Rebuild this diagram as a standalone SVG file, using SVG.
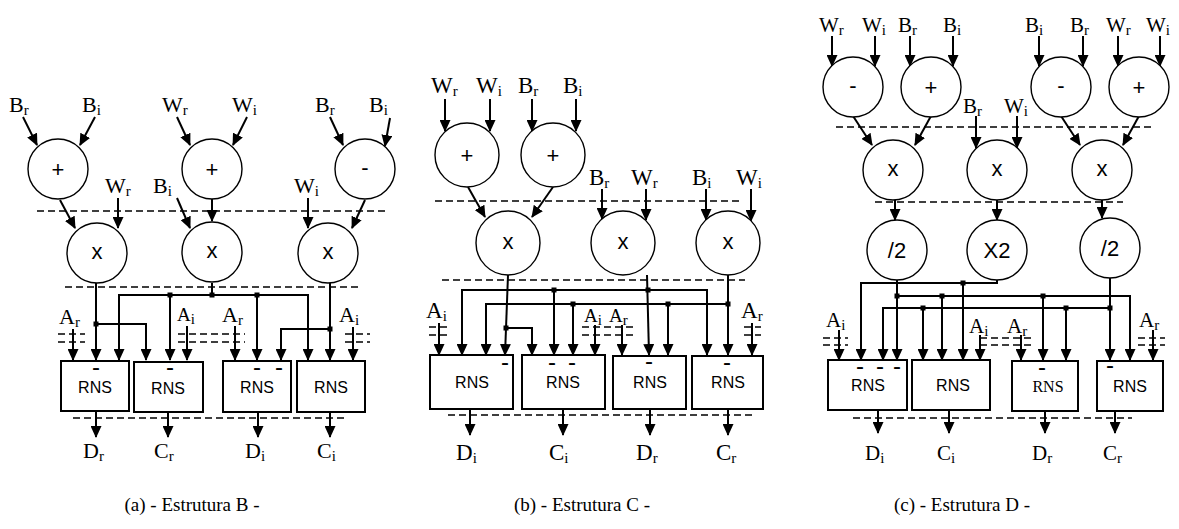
<svg xmlns="http://www.w3.org/2000/svg" width="1179" height="529" viewBox="0 0 1179 529">
<defs>
<marker id="ah" markerWidth="12" markerHeight="11" refX="11" refY="5.5" orient="auto" markerUnits="userSpaceOnUse"><path d="M0,0 L12,5.5 L0,11 z" fill="#000"/></marker>
<style>
.c{fill:#fff;stroke:#000;stroke-width:1.4}
.b{fill:#fff;stroke:#000;stroke-width:2}
.w{fill:none;stroke:#000;stroke-width:2;marker-end:url(#ah)}
.d{fill:none;stroke:#000;stroke-width:1.3;stroke-dasharray:7 4}
.j{fill:#000}
.l{font-family:"Liberation Serif",serif;font-size:22px;fill:#000}
.lb{font-family:"Liberation Serif",serif;font-size:23px;fill:#000}
.lc{font-family:"Liberation Serif",serif;font-size:21px;fill:#000}
.ls{font-family:"Liberation Serif",serif;font-size:19px;fill:#000}
.s{font-size:15px}
.op{font-family:"Liberation Sans",Arial,sans-serif;font-size:22px;text-anchor:middle;fill:#000}
.rns{font-family:"Liberation Sans",Arial,sans-serif;font-size:16px;text-anchor:middle;fill:#000}
.rnss{font-family:"Liberation Serif",serif;font-size:16px;text-anchor:middle;fill:#000}
.m{font-family:"Liberation Sans",Arial,sans-serif;font-size:24px;text-anchor:middle;fill:#000}
.cap{font-family:"Liberation Serif",serif;font-size:19px;text-anchor:middle;fill:#000}
</style>
</defs>
<rect width="1179" height="529" fill="#fff"/>

<g id="dashes">
<path class="d" d="M37,211H385M65,287H360M73,418H347"/>
<path class="d" d="M58,334H85M58,342H85M178,334H245M178,342H245M345,334H370M345,342H370"/>
<path class="d" d="M435,201H743M442,280H745M448,415H753"/>
<path class="d" d="M429,327H447M429,335H447M582,327H637M582,335H637M744,327H761M744,335H761"/>
<path class="d" d="M836,127H1155M875,202H1123M853,418H1132"/>
<path class="d" d="M823,338H848M823,345H848M980,338H1033M980,345H1033M1138,338H1165M1138,345H1165"/>
</g>

<g id="connectors">
<!-- (a) -->
<path class="w" d="M23,117L37,145"/>
<path class="w" d="M95,117L80,145"/>
<path class="w" d="M177,117L190,145"/>
<path class="w" d="M247,117L233,145"/>
<path class="w" d="M330,117L343,145"/>
<path class="w" d="M390,118L385,146"/>
<path class="w" d="M60,200L75,228"/>
<path class="w" d="M118,198V228"/>
<path class="w" d="M212,199V221"/>
<path class="w" d="M177,198L190,228"/>
<path class="w" d="M308,198V228"/>
<path class="w" d="M365,200L352,228"/>
<path class="w" d="M96,283V360"/>
<path class="w" d="M96,324H146V360"/>
<path class="w" d="M212,283V295H119V360"/>
<path class="w" d="M212,295H308V360"/>
<path class="w" d="M170,295V360"/>
<path class="w" d="M257,295V360"/>
<path class="w" d="M330,283V360"/>
<path class="w" d="M330,329H281V360"/>
<path class="w" d="M73,329V360"/>
<path class="w" d="M187,326V360"/>
<path class="w" d="M235,326V360"/>
<path class="w" d="M353,327V360"/>
<path class="w" d="M96,411V437"/>
<path class="w" d="M168,412V437"/>
<path class="w" d="M258,412V437"/>
<path class="w" d="M330,412V437"/>
<rect class="j" x="93.5" y="321.5" width="5" height="5"/>
<rect class="j" x="167.5" y="292.5" width="5" height="5"/>
<rect class="j" x="209.5" y="292.5" width="5" height="5"/>
<rect class="j" x="254.5" y="292.5" width="5" height="5"/>
<rect class="j" x="327.5" y="326.5" width="5" height="5"/>

<!-- (b) -->
<path class="w" d="M445,99V131"/>
<path class="w" d="M490,99V131"/>
<path class="w" d="M532,99V131"/>
<path class="w" d="M576,99V131"/>
<path class="w" d="M468,187L485,217"/>
<path class="w" d="M553,187L532,217"/>
<path class="w" d="M602,189V219"/>
<path class="w" d="M646,189V220"/>
<path class="w" d="M706,189V220"/>
<path class="w" d="M751,189V221"/>
<path class="w" d="M508,275L505,355"/>
<path class="w" d="M506,328H532V355"/>
<path class="w" d="M647,275L649,355"/>
<path class="w" d="M648,290H462V355"/>
<path class="w" d="M648,290H707V355"/>
<path class="w" d="M554,290V355"/>
<path class="w" d="M728,275V355"/>
<path class="w" d="M728,304H486V355"/>
<path class="w" d="M573,304V355"/>
<path class="w" d="M668,304V355"/>
<path class="w" d="M439,323V355"/>
<path class="w" d="M595,325V355"/>
<path class="w" d="M622,325V355"/>
<path class="w" d="M752,323V355"/>
<path class="w" d="M470,409V435"/>
<path class="w" d="M563,409V435"/>
<path class="w" d="M650,409V435"/>
<path class="w" d="M728,409V435"/>
<rect class="j" x="503.5" y="325.5" width="5" height="5"/>
<rect class="j" x="551.5" y="287.5" width="5" height="5"/>
<rect class="j" x="645.5" y="287.5" width="5" height="5"/>
<rect class="j" x="570.5" y="301.5" width="5" height="5"/>
<rect class="j" x="665.5" y="301.5" width="5" height="5"/>
<rect class="j" x="725.5" y="301.5" width="5" height="5"/>

<!-- (c) -->
<path class="w" d="M832,36V66"/>
<path class="w" d="M875,36V66"/>
<path class="w" d="M910,36V66"/>
<path class="w" d="M953,36V66"/>
<path class="w" d="M1039,36V66"/>
<path class="w" d="M1083,36V66"/>
<path class="w" d="M1118,36V66"/>
<path class="w" d="M1160,36V66"/>
<path class="w" d="M853,116L872,145"/>
<path class="w" d="M931,116L915,145"/>
<path class="w" d="M1061,116L1080,145"/>
<path class="w" d="M1139,116L1123,145"/>
<path class="w" d="M976,116V148"/>
<path class="w" d="M1017,116V148"/>
<path class="w" d="M895,200V220"/>
<path class="w" d="M997,200V220"/>
<path class="w" d="M1102,200V218"/>
<path class="w" d="M897,280V360"/>
<path class="w" d="M897,296H1130V360"/>
<path class="w" d="M942,296V360"/>
<path class="w" d="M1043,296V360"/>
<path class="w" d="M997,280V283H861V360"/>
<path class="w" d="M963,283V360"/>
<path class="w" d="M1110,278V360"/>
<path class="w" d="M1110,308H883V360"/>
<path class="w" d="M923,308V360"/>
<path class="w" d="M1066,308V360"/>
<path class="w" d="M839,330V360"/>
<path class="w" d="M980,335V360"/>
<path class="w" d="M1021,335V360"/>
<path class="w" d="M1153,330V360"/>
<path class="w" d="M878,410V433"/>
<path class="w" d="M949,410V433"/>
<path class="w" d="M1045,411V433"/>
<path class="w" d="M1115,411V433"/>
<rect class="j" x="894.5" y="293.5" width="5" height="5"/>
<rect class="j" x="939.5" y="293.5" width="5" height="5"/>
<rect class="j" x="1040.5" y="293.5" width="5" height="5"/>
<rect class="j" x="960.5" y="280.5" width="5" height="5"/>
<rect class="j" x="920.5" y="305.5" width="5" height="5"/>
<rect class="j" x="1063.5" y="305.5" width="5" height="5"/>
<rect class="j" x="1107.5" y="305.5" width="5" height="5"/>
</g>

<!-- ===== (a) nodes ===== -->
<g id="a-add1"><circle class="c" cx="58" cy="169" r="30"/><text class="op" x="58" y="177">+</text></g>
<g id="a-add2"><circle class="c" cx="212" cy="169" r="30"/><text class="op" x="212" y="177">+</text></g>
<g id="a-sub"><circle class="c" cx="365" cy="169" r="30"/><text class="op" x="365" y="175">-</text></g>
<g id="a-mul1"><circle class="c" cx="97" cy="253" r="30"/><text class="op" x="97" y="259">x</text></g>
<g id="a-mul2"><circle class="c" cx="212" cy="252" r="30"/><text class="op" x="212" y="258">x</text></g>
<g id="a-mul3"><circle class="c" cx="328" cy="253" r="30"/><text class="op" x="328" y="259">x</text></g>
<g id="a-rns1"><rect class="b" x="61" y="361" width="68" height="50"/><text class="m" x="96" y="375">-</text><text class="rns" x="95" y="393">RNS</text></g>
<g id="a-rns2"><rect class="b" x="134" y="362" width="69" height="50"/><text class="m" x="170" y="375">-</text><text class="rns" x="168" y="394">RNS</text></g>
<g id="a-rns3"><rect class="b" x="223" y="361" width="68" height="51"/><text class="m" x="257" y="375">-</text><text class="m" x="279" y="375">-</text><text class="rns" x="257" y="393">RNS</text></g>
<g id="a-rns4"><rect class="b" x="297" y="361" width="68" height="51"/><text class="rns" x="331" y="393">RNS</text></g>
<g id="a-labels">
<text class="l" x="9" y="112">B<tspan class="s" dy="3">r</tspan></text>
<text class="l" x="82" y="112">B<tspan class="s" dy="3">i</tspan></text>
<text class="l" x="162" y="112">W<tspan class="s" dy="3">r</tspan></text>
<text class="l" x="232" y="112">W<tspan class="s" dy="3">i</tspan></text>
<text class="l" x="315" y="112">B<tspan class="s" dy="3">r</tspan></text>
<text class="l" x="369" y="112">B<tspan class="s" dy="3">i</tspan></text>
<text class="l" x="105" y="193">W<tspan class="s" dy="3">r</tspan></text>
<text class="l" x="153" y="193">B<tspan class="s" dy="3">i</tspan></text>
<text class="l" x="294" y="193">W<tspan class="s" dy="3">i</tspan></text>
<text class="l" x="59" y="324">A<tspan class="s" dy="3">r</tspan></text>
<text class="ls" x="177" y="321">A<tspan class="s" dy="3">i</tspan></text>
<text class="l" x="222" y="322">A<tspan class="s" dy="3">r</tspan></text>
<text class="l" x="339" y="322">A<tspan class="s" dy="3">i</tspan></text>
<text class="l" x="83" y="458">D<tspan class="s" dy="3">r</tspan></text>
<text class="l" x="154" y="458">C<tspan class="s" dy="3">r</tspan></text>
<text class="l" x="245" y="458">D<tspan class="s" dy="3">i</tspan></text>
<text class="l" x="317" y="458">C<tspan class="s" dy="3">i</tspan></text>
<text class="cap" x="192" y="511">(a) - Estrutura B -</text>
</g>

<!-- ===== (b) nodes ===== -->
<g id="b-add1"><circle class="c" cx="467" cy="155" r="32"/><text class="op" x="467" y="163">+</text></g>
<g id="b-add2"><circle class="c" cx="553" cy="155" r="32"/><text class="op" x="553" y="163">+</text></g>
<g id="b-mul1"><circle class="c" cx="508" cy="243" r="32"/><text class="op" x="508" y="249">x</text></g>
<g id="b-mul2"><circle class="c" cx="623" cy="243" r="32"/><text class="op" x="623" y="249">x</text></g>
<g id="b-mul3"><circle class="c" cx="728" cy="243" r="32"/><text class="op" x="728" y="249">x</text></g>
<g id="b-rns1"><rect class="b" x="430" y="355" width="83" height="54"/><text class="m" x="505" y="370">-</text><text class="rns" x="472" y="388">RNS</text></g>
<g id="b-rns2"><rect class="b" x="522" y="355" width="83" height="54"/><text class="m" x="552" y="370">-</text><text class="m" x="572" y="370">-</text><text class="rns" x="563" y="388">RNS</text></g>
<g id="b-rns3"><rect class="b" x="613" y="356" width="73" height="53"/><text class="m" x="649" y="369">-</text><text class="rns" x="650" y="388">RNS</text></g>
<g id="b-rns4"><rect class="b" x="692" y="356" width="71" height="53"/><text class="m" x="727" y="370">-</text><text class="rns" x="728" y="388">RNS</text></g>
<g id="b-labels">
<text class="lb" x="431" y="93">W<tspan class="s" dy="3">r</tspan></text>
<text class="lb" x="476" y="93">W<tspan class="s" dy="3">i</tspan></text>
<text class="lb" x="518" y="93">B<tspan class="s" dy="3">r</tspan></text>
<text class="lb" x="563" y="93">B<tspan class="s" dy="3">i</tspan></text>
<text class="lb" x="589" y="185">B<tspan class="s" dy="3">r</tspan></text>
<text class="lb" x="631" y="185">W<tspan class="s" dy="3">r</tspan></text>
<text class="lb" x="692" y="185">B<tspan class="s" dy="3">i</tspan></text>
<text class="lb" x="736" y="185">W<tspan class="s" dy="3">i</tspan></text>
<text class="lb" x="426" y="318">A<tspan class="s" dy="3">i</tspan></text>
<text class="ls" x="584" y="322">A<tspan class="s" dy="3">i</tspan></text>
<text class="ls" x="609" y="322">A<tspan class="s" dy="3">r</tspan></text>
<text class="lb" x="741" y="318">A<tspan class="s" dy="3">r</tspan></text>
<text class="lb" x="456" y="460">D<tspan class="s" dy="3">i</tspan></text>
<text class="lb" x="549" y="460">C<tspan class="s" dy="3">i</tspan></text>
<text class="lb" x="636" y="460">D<tspan class="s" dy="3">r</tspan></text>
<text class="lb" x="716" y="460">C<tspan class="s" dy="3">r</tspan></text>
<text class="cap" x="582" y="511">(b) - Estrutura C -</text>
</g>

<!-- ===== (c) nodes ===== -->
<g id="c-sub1"><circle class="c" cx="853" cy="87" r="30"/><text class="op" x="853" y="93">-</text></g>
<g id="c-add1"><circle class="c" cx="931" cy="87" r="30"/><text class="op" x="931" y="95">+</text></g>
<g id="c-sub2"><circle class="c" cx="1061" cy="87" r="30"/><text class="op" x="1061" y="93">-</text></g>
<g id="c-add2"><circle class="c" cx="1139" cy="87" r="30"/><text class="op" x="1139" y="95">+</text></g>
<g id="c-mul1"><circle class="c" cx="893" cy="170" r="30"/><text class="op" x="893" y="176">x</text></g>
<g id="c-mul2"><circle class="c" cx="997" cy="170" r="30"/><text class="op" x="997" y="176">x</text></g>
<g id="c-mul3"><circle class="c" cx="1102" cy="170" r="30"/><text class="op" x="1102" y="176">x</text></g>
<g id="c-div1"><circle class="c" cx="897" cy="250" r="30"/><text class="op" x="897" y="258">/2</text></g>
<g id="c-x2"><circle class="c" cx="997" cy="250" r="30"/><text class="op" x="997" y="258">X2</text></g>
<g id="c-div2"><circle class="c" cx="1110" cy="248" r="30"/><text class="op" x="1110" y="256">/2</text></g>
<g id="c-rns1"><rect class="b" x="828" y="360" width="79" height="50"/><text class="m" x="860" y="374">-</text><text class="m" x="880" y="374">-</text><text class="m" x="897" y="374">-</text><text class="rns" x="868" y="391">RNS</text></g>
<g id="c-rns2"><rect class="b" x="912" y="360" width="78" height="50"/><text class="rns" x="953" y="391">RNS</text></g>
<g id="c-rns3"><rect class="b" x="1012" y="361" width="66" height="50"/><text class="m" x="1042" y="375">-</text><text class="rnss" x="1048" y="392">RNS</text></g>
<g id="c-rns4"><rect class="b" x="1097" y="361" width="66" height="50"/><text class="m" x="1110" y="373">-</text><text class="rns" x="1130" y="392">RNS</text></g>
<g id="c-labels">
<text class="lc" x="819" y="32">W<tspan class="s" dy="3">r</tspan></text>
<text class="lc" x="862" y="32">W<tspan class="s" dy="3">i</tspan></text>
<text class="lc" x="898" y="32">B<tspan class="s" dy="3">r</tspan></text>
<text class="lc" x="943" y="32">B<tspan class="s" dy="3">i</tspan></text>
<text class="lc" x="1025" y="32">B<tspan class="s" dy="3">i</tspan></text>
<text class="lc" x="1070" y="32">B<tspan class="s" dy="3">r</tspan></text>
<text class="lc" x="1106" y="32">W<tspan class="s" dy="3">r</tspan></text>
<text class="lc" x="1146" y="32">W<tspan class="s" dy="3">i</tspan></text>
<text class="lc" x="963" y="113">B<tspan class="s" dy="3">r</tspan></text>
<text class="lc" x="1004" y="113">W<tspan class="s" dy="3">i</tspan></text>
<text class="lc" x="826" y="327">A<tspan class="s" dy="3">i</tspan></text>
<text class="lc" x="969" y="333">A<tspan class="s" dy="3">i</tspan></text>
<text class="lc" x="1007" y="333">A<tspan class="s" dy="3">r</tspan></text>
<text class="lc" x="1139" y="327">A<tspan class="s" dy="3">r</tspan></text>
<text class="lc" x="865" y="460">D<tspan class="s" dy="3">i</tspan></text>
<text class="lc" x="937" y="460">C<tspan class="s" dy="3">i</tspan></text>
<text class="lc" x="1032" y="460">D<tspan class="s" dy="3">r</tspan></text>
<text class="lc" x="1103" y="460">C<tspan class="s" dy="3">r</tspan></text>
<text class="cap" x="962" y="511">(c) - Estrutura D -</text>
</g>
</svg>
